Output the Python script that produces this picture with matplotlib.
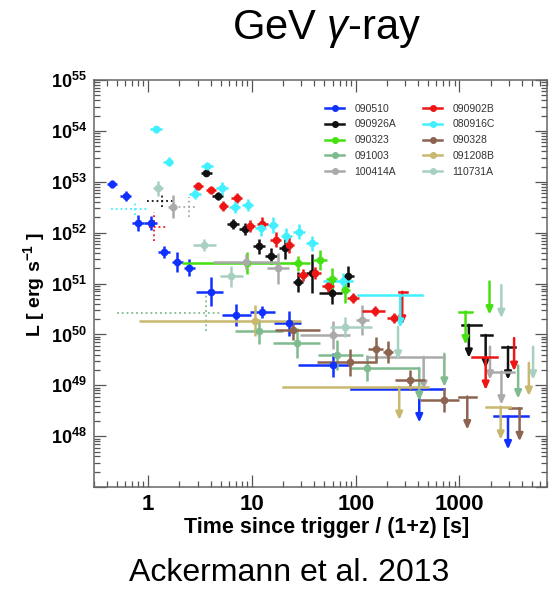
import numpy as np
import matplotlib
matplotlib.use("Agg")
from matplotlib import pyplot as plt
from matplotlib.lines import Line2D
from matplotlib.ticker import FuncFormatter, LogLocator, NullFormatter

# detections: (t, t_lo, t_hi, log10 L, error in dex)
# upper limits: (t, t_lo, t_hi, log10 L)
det_090510 = [
    (0.445, 0.40, 0.50, 52.96, 0.08),
    (0.61, 0.54, 0.69, 52.72, 0.10),
    (0.80, 0.70, 0.91, 52.19, 0.15),
    (1.06, 0.92, 1.22, 52.19, 0.14),
    (1.43, 1.25, 1.62, 51.62, 0.12),
    (1.90, 1.68, 2.15, 51.42, 0.20),
    (2.49, 2.20, 2.80, 51.31, 0.17),
    (4.05, 2.90, 5.30, 50.84, 0.28),
    (7.06, 5.20, 9.70, 50.38, 0.22),
    (12.6, 9.60, 16.6, 50.44, 0.12),
    (22.6, 16.2, 29.5, 50.22, 0.25),
    (60.0, 28.0, 88.0, 49.40, 0.23),
]
ul_090510 = [(410, 91, 707, 48.92), (2940, 2150, 4540, 48.39)]

det_090926A = [
    (3.62, 3.2, 4.1, 53.18, 0.07),
    (4.69, 4.1, 5.3, 52.72, 0.08),
    (6.55, 5.7, 7.5, 52.17, 0.10),
    (8.5, 7.5, 9.7, 52.07, 0.12),
    (11.7, 10.3, 13.3, 51.73, 0.15),
    (15.4, 13.5, 17.5, 51.54, 0.15),
    (20.7, 18.3, 23.5, 51.69, 0.20),
    (27.9, 25.0, 31.0, 51.03, 0.20),
    (37.6, 33.0, 43.0, 51.20, 0.38),
    (58.7, 44.0, 73.0, 50.82, 0.22),
    (85.0, 75.0, 97.0, 51.14, 0.20),
]
ul_090926A = [(1233, 1060, 1600, 50.19), (1790, 1600, 2050, 49.99), (2940, 2570, 3400, 49.76)]
dot_090926A = [(1.37, 0.98, 1.72, 52.63, 0.12)]

det_090323 = [
    (9.0, 2.1, 27.0, 51.40, 0.22),
    (27.9, 24.0, 36.0, 51.40, 0.15),
    (45.0, 39.0, 53.0, 51.46, 0.20),
    (58.7, 52.0, 66.0, 51.10, 0.20),
    (79.0, 72.0, 88.0, 50.87, 0.25),
]
ul_090323 = [(1146, 1000, 1330, 50.45), (1950, 1950, 1950, 51.04)]

det_091003 = [
    (11.7, 6.8, 20.0, 50.06, 0.25),
    (27.2, 16.0, 45.0, 49.83, 0.30),
    (65.6, 43.0, 118.0, 49.60, 0.30),
    (128.0, 88.0, 410.0, 49.34, 0.26),
]
ul_091003 = [(410, 410, 410, 49.34), (716, 716, 716, 49.62), (3680, 3680, 3680, 49.39)]
dot_091003 = [(3.62, 0.5, 4.87, 50.42, 0.35)]

det_100414A = [
    (1.72, 1.55, 1.90, 52.51, 0.23),
    (8.8, 4.2, 17.4, 51.43, 0.15),
    (17.9, 14.0, 23.0, 51.30, 0.30),
    (61.0, 29.0, 88.0, 49.99, 0.27),
    (115.0, 100.0, 135.0, 50.28, 0.30),
]
ul_100414A = [(452, 128, 716, 49.56), (1970, 1970, 1970, 49.76), (2540, 1990, 3370, 49.27)]
dot_100414A = [(2.5, 1.6, 2.9, 52.50, 0.20)]

det_090902B = [
    (3.0, 2.7, 3.35, 52.92, 0.08),
    (4.04, 3.6, 4.5, 52.84, 0.08),
    (5.3, 4.8, 5.9, 52.52, 0.10),
    (7.16, 6.3, 8.1, 52.68, 0.10),
    (9.5, 8.5, 10.6, 52.13, 0.12),
    (12.6, 11.2, 14.2, 52.18, 0.12),
    (16.9, 15.0, 19.0, 51.86, 0.15),
    (22.8, 20.5, 25.5, 51.76, 0.15),
    (31.2, 27.0, 35.0, 51.17, 0.12),
    (40.4, 35.0, 46.0, 51.21, 0.12),
    (54.5, 47.0, 62.0, 50.95, 0.12),
    (95.0, 82.0, 108.0, 50.71, 0.10),
    (154.0, 115.0, 190.0, 50.46, 0.10),
    (232.0, 200.0, 265.0, 50.32, 0.10),
]
ul_090902B = [(281, 260, 310, 50.84), (1790, 1320, 2320, 49.56), (3365, 3365, 3365, 49.93)]
dot_090902B = [(1.13, 1.02, 1.53, 52.12, 0.28)]

det_080916C = [
    (1.19, 1.05, 1.35, 54.03, 0.07),
    (1.57, 1.40, 1.75, 53.40, 0.08),
    (2.81, 2.45, 3.2, 52.77, 0.10),
    (3.67, 3.2, 4.2, 53.31, 0.08),
    (5.17, 4.5, 5.9, 52.87, 0.12),
    (6.8, 6.0, 7.7, 52.51, 0.12),
    (9.15, 8.1, 10.3, 52.54, 0.12),
    (12.1, 10.7, 13.7, 52.09, 0.15),
    (16.0, 14.2, 18.0, 52.15, 0.15),
    (21.5, 19.0, 24.3, 51.94, 0.15),
    (28.5, 25.0, 32.5, 52.02, 0.15),
    (37.6, 33.0, 43.0, 51.79, 0.15),
    (75.0, 48.0, 95.0, 51.06, 0.15),
]
ul_080916C = [(269, 106, 435, 50.78)]
dot_080916C = [(0.75, 0.44, 1.02, 52.47, 0.12)]

det_090328 = [
    (25.0, 16.6, 45.0, 50.09, 0.20),
    (88.0, 42.0, 162.0, 49.45, 0.26),
    (157.0, 132.0, 184.0, 49.71, 0.25),
    (207.0, 185.0, 230.0, 49.66, 0.22),
    (331.0, 240.0, 470.0, 49.11, 0.20),
    (716.0, 420.0, 980.0, 48.71, 0.23),
]
ul_090328 = [(1190, 980, 1430, 48.78), (3800, 3000, 3900, 48.55)]

det_091208B = [(10.6, 0.82, 30.0, 50.27, 0.30)]
ul_091208B = [(263, 20, 500, 48.97), (2500, 1800, 3100, 48.58), (4670, 4670, 4670, 49.44)]

det_110731A = [
    (1.23, 1.1, 1.4, 52.87, 0.15),
    (3.48, 2.7, 4.5, 51.76, 0.12),
    (6.3, 4.9, 8.2, 51.14, 0.20),
    (79.0, 56.0, 145.0, 50.15, 0.20),
]
ul_110731A = [(256, 256, 256, 50.15), (2535, 2535, 2535, 50.97), (5130, 5130, 5130, 49.76)]

# name, colour, detections, upper limits, dotted (prompt) points
bursts = [
    ("090510", "#1030ff", det_090510, ul_090510, []),
    ("090926A", "#111111", det_090926A, ul_090926A, dot_090926A),
    ("090323", "#44e010", det_090323, ul_090323, []),
    ("091003", "#80bb90", det_091003, ul_091003, dot_091003),
    ("100414A", "#aaaaaa", det_100414A, ul_100414A, dot_100414A),
    ("090902B", "#ee1515", det_090902B, ul_090902B, dot_090902B),
    ("080916C", "#40f0ff", det_080916C, ul_080916C, dot_080916C),
    ("090328", "#8c6450", det_090328, ul_090328, []),
    ("091208B", "#c8b870", det_091208B, ul_091208B, []),
    ("110731A", "#a8d0c0", det_110731A, ul_110731A, []),
]

ARROW_DEX = 0.65

plt.rcParams["font.family"] = "Liberation Sans"
plt.rcParams["mathtext.fontset"] = "custom"
plt.rcParams["mathtext.rm"] = "Liberation Sans"
plt.rcParams["mathtext.bf"] = "Liberation Sans:bold"
plt.rcParams["mathtext.it"] = "Liberation Sans:italic"


def draw_points(ax, rows, color, dotted=False):
    if not rows:
        return
    t, t_lo, t_hi, logl, dl = map(np.array, zip(*rows))
    lum = 10.0 ** logl
    xerr = [t - t_lo, t_hi - t]
    yerr = [lum - 10.0 ** (logl - dl), 10.0 ** (logl + dl) - lum]
    eb = ax.errorbar(t, lum, xerr=xerr, yerr=yerr,
                     fmt="none" if dotted else "o", ms=4.5, color=color,
                     elinewidth=1.3 if dotted else 1.8, capsize=0, zorder=3)
    if dotted:
        for lc in eb[2]:
            lc.set_linestyle(":")


def draw_limits(ax, rows, color):
    for t, t_lo, t_hi, logl in rows:
        lum = 10.0 ** logl
        if t_hi > t_lo:
            ax.plot([t_lo, t_hi], [lum, lum], color=color, lw=1.8, zorder=3)
        ax.annotate("", xy=(t, lum * 10 ** -ARROW_DEX), xytext=(t, lum),
                    arrowprops=dict(arrowstyle="-|>,head_length=0.45,head_width=0.2",
                                    color=color, lw=1.8, shrinkA=0, shrinkB=0),
                    zorder=3)


fig = plt.figure(figsize=(5.56, 5.89), dpi=100)
ax = fig.add_axes([0.169, 0.173, 0.815, 0.691])

for name, color, det, ul, dot in bursts:
    draw_limits(ax, ul, color)
    draw_points(ax, dot, color, dotted=True)
    draw_points(ax, det, color)

ax.set_xscale("log")
ax.set_yscale("log")
ax.set_xlim(0.3, 7000)
ax.set_ylim(1e47, 1e55)

ax.xaxis.set_major_locator(LogLocator(base=10, numticks=10))
ax.xaxis.set_minor_locator(LogLocator(base=10, subs=np.arange(2, 10), numticks=20))
ax.xaxis.set_major_formatter(FuncFormatter(lambda v, _: f"{v:g}"))
ax.xaxis.set_minor_formatter(NullFormatter())
ax.yaxis.set_major_locator(LogLocator(base=10, numticks=12))
ax.yaxis.set_minor_locator(LogLocator(base=10, subs=np.arange(2, 10), numticks=20))
ax.yaxis.set_major_formatter(FuncFormatter(
    lambda v, _: "" if round(np.log10(v)) < 48 else r"$\mathbf{10^{%d}}$" % round(np.log10(v))))
ax.yaxis.set_minor_formatter(NullFormatter())

ax.tick_params(which="both", direction="in", top=True, right=True, colors="#555555")
ax.tick_params(which="major", length=8.5, width=0.9, labelcolor="black", pad=5)
ax.tick_params(which="minor", length=4.3, width=0.9)
ax.tick_params(axis="x", labelsize=16, pad=5)
ax.tick_params(axis="y", labelsize=13)
for lab in ax.get_xticklabels() + ax.get_yticklabels():
    lab.set_fontweight("bold")
for sp in ax.spines.values():
    sp.set_color("#666666")
    sp.set_linewidth(1.1)

handles = [Line2D([], [], color=c, marker="o", ms=4, lw=1.8) for _, c, _, _, _ in bursts]
labels = [name for name, _, _, _, _ in bursts]
ax.legend(handles, labels, loc="upper left", bbox_to_anchor=(0.49, 0.965), ncol=2,
          frameon=False, fontsize=7.5, handlelength=1.8, columnspacing=2.6,
          labelspacing=0.55, handletextpad=1.0, labelcolor="#333333")

fig.text(34 / 556, 1 - 285 / 589, r"L [ erg s$^{\mathbf{-1}}$ ]", rotation=90,
         ha="center", va="center", fontsize=14, fontweight="bold")
fig.text(327 / 556, 1 - 528 / 589, "Time since trigger / (1+z) [s]",
         ha="center", va="center", fontsize=15.5, fontweight="bold")
fig.text(327 / 556, 1 - 29 / 589, r"GeV $\mathit{\gamma}$-ray", ha="center", va="center",
         fontsize=30)
fig.text(289 / 556, 1 - 573 / 589, "Ackermann et al. 2013", ha="center", va="center", fontsize=23)

fig.savefig("out.png", dpi=100)
